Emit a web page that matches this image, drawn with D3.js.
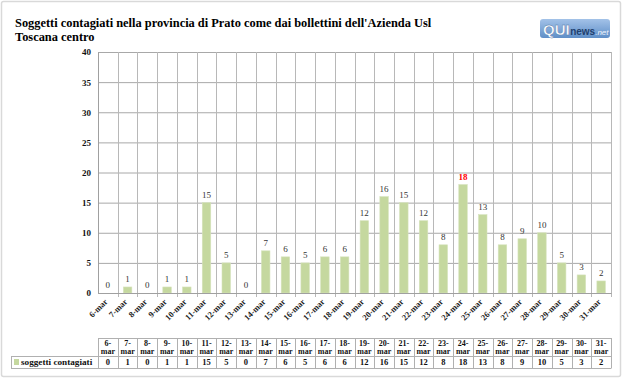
<!DOCTYPE html>
<html><head><meta charset="utf-8">
<script src="https://cdn.jsdelivr.net/npm/d3@7"></script>
<style>
html,body{margin:0;padding:0;background:#fff;}
svg{display:block;}
</style></head>
<body>
<script>
const categories = ["6-mar","7-mar","8-mar","9-mar","10-mar","11-mar","12-mar","13-mar","14-mar","15-mar","16-mar","17-mar","18-mar","19-mar","20-mar","21-mar","22-mar","23-mar","24-mar","25-mar","26-mar","27-mar","28-mar","29-mar","30-mar","31-mar"];
const values = [0,1,0,1,1,15,5,0,7,6,5,6,6,12,16,15,12,8,18,13,8,9,10,5,3,2];
const yTicks = [0,5,10,15,20,25,30,35,40];
const seriesName = "soggetti contagiati";
const titleLines = ["Soggetti contagiati nella provincia di Prato come dai bollettini dell'Azienda Usl","Toscana centro"];

const SERIF = "Liberation Serif, Times New Roman, serif";
const W = 623, H = 380;
const svg = d3.select("body").append("svg").attr("width", W).attr("height", H)
  .attr("font-family", SERIF);

// outer frame
svg.append("rect").attr("x",1.5).attr("y",1.5).attr("width",619).attr("height",375)
  .attr("fill","#fff").attr("stroke","#d9d9d9").attr("stroke-width",1.5).attr("rx",2);

const x = d3.scaleBand().domain(categories).range([98, 611]).padding(0);
const y = d3.scaleLinear().domain([0, 40]).range([293, 52]);

// title
svg.append("g").selectAll("text").data(titleLines).join("text")
  .attr("x", 15).attr("y", (d,i) => 27 + i*14)
  .attr("font-family", SERIF)
  .attr("font-size", 12.4).attr("font-weight", "bold").attr("fill", "#000")
  .text(d => d);

// logo
const logo = svg.append("g").attr("transform","translate(540,19)");
const grad = svg.append("defs").append("linearGradient").attr("id","lg").attr("x1",0).attr("x2",0).attr("y1",0).attr("y2",1);
grad.append("stop").attr("offset","0%").attr("stop-color","#a3c2e8");
grad.append("stop").attr("offset","100%").attr("stop-color","#5f8fc8");
logo.append("rect").attr("width",70).attr("height",19).attr("rx",3).attr("fill","url(#lg)");
const lt = logo.append("text").attr("x",3).attr("y",15.5);
lt.append("tspan").text("QUI").attr("font-family","Liberation Sans, Arial, sans-serif").attr("font-weight","bold").attr("font-size",15).attr("fill","#fff").attr("stroke","#4a74a8").attr("stroke-width",0.4);
lt.append("tspan").text("news").attr("font-family","Liberation Sans, Arial, sans-serif").attr("font-size",10).attr("fill","#1f3f6e").attr("dx",0.5).attr("font-weight","bold");
lt.append("tspan").text(".net").attr("font-family","Liberation Sans, Arial, sans-serif").attr("font-size",8).attr("fill","#eef4fc").attr("font-style","italic");

// gridlines
const plot = svg.append("g");
plot.selectAll("line.h").data(yTicks).join("line").attr("class","h")
  .attr("x1", 98).attr("x2", 611).attr("y1", d => y(d)+0.5).attr("y2", d => y(d)+0.5)
  .attr("stroke", "#a8a8a8").attr("stroke-width", 1);
plot.selectAll("line.v").data(categories.slice(1)).join("line").attr("class","v")
  .attr("x1", d => Math.round(x(d))+0.5).attr("x2", d => Math.round(x(d))+0.5)
  .attr("y1", y(40)).attr("y2", y(0)+4)
  .attr("stroke", "#b8b8b8").attr("stroke-width", 1);
plot.append("line").attr("x1",611.5).attr("x2",611.5).attr("y1",y(40)).attr("y2",y(0)+4).attr("stroke","#b8b8b8");

// bars
const bw = 8.5;
plot.selectAll("rect.bar").data(values).join("rect").attr("class","bar")
  .attr("x", (d,i) => x(categories[i]) + x.bandwidth()/2 - bw/2)
  .attr("width", bw)
  .attr("y", d => y(d))
  .attr("height", d => y(0) - y(d))
  .attr("fill", "#c5d89f").attr("stroke","#d6e3bd").attr("stroke-width",0.6);

// y axis
const yAxis = d3.axisLeft(y).tickValues(yTicks).tickSize(0).tickPadding(7);
const yg = svg.append("g").attr("transform","translate(98,0)").call(yAxis);
yg.attr("font-family", SERIF);
yg.select(".domain").attr("stroke","#a0a0a0");
yg.selectAll("text").attr("font-size",9).attr("font-weight","bold").attr("fill","#111");

// x axis
const xAxis = d3.axisBottom(x).tickSize(0).tickPadding(0);
const xg = svg.append("g").attr("transform",`translate(0,${y(0)})`).call(xAxis);
xg.attr("font-family", SERIF);
xg.select(".domain").attr("stroke","#a0a0a0");
xg.selectAll(".tick text")
  .attr("font-size",8.5).attr("font-weight","bold").attr("fill","#222")
  .attr("text-anchor","end").attr("dy",null).attr("y",null)
  .attr("transform","translate(-1,8) rotate(-45)")
  .attr("dominant-baseline","middle");

// value labels
const maxV = d3.max(values);
plot.selectAll("text.val").data(values).join("text").attr("class","val")
  .attr("x", (d,i) => x(categories[i]) + x.bandwidth()/2)
  .attr("y", d => y(d) - 5)
  .attr("text-anchor","middle")
  .attr("font-size", 9)
  .attr("font-weight", d => d === maxV ? "bold" : "normal")
  .attr("fill", d => d === maxV ? "#ff0000" : "#333")
  .text(d => d);

// data table
const tTop = 338, tMid = 356, tBot = 368;
const tbl = svg.append("g");
const tl = "#b0b0b0";
tbl.selectAll("line.tv").data(categories).join("line").attr("class","tv")
  .attr("x1", d => Math.round(x(d))+0.5).attr("x2", d => Math.round(x(d))+0.5)
  .attr("y1", tTop).attr("y2", tBot).attr("stroke", tl);
tbl.append("line").attr("x1",611.5).attr("x2",611.5).attr("y1",tTop).attr("y2",tBot).attr("stroke",tl);
tbl.append("line").attr("x1",98).attr("x2",611.5).attr("y1",tTop+0.5).attr("y2",tTop+0.5).attr("stroke",tl);
tbl.append("line").attr("x1",11).attr("x2",611.5).attr("y1",tMid+0.5).attr("y2",tMid+0.5).attr("stroke",tl);
tbl.append("line").attr("x1",11).attr("x2",611.5).attr("y1",tBot+0.5).attr("y2",tBot+0.5).attr("stroke",tl);
tbl.append("line").attr("x1",11.5).attr("x2",11.5).attr("y1",tMid).attr("y2",tBot).attr("stroke",tl);

tbl.selectAll("text.h1").data(categories).join("text").attr("class","h1")
  .attr("x", d => x(d) + x.bandwidth()/2).attr("y", tTop+7.5)
  .attr("text-anchor","middle").attr("font-size",8).attr("font-weight","bold").attr("fill","#111")
  .text(d => d.split("-")[0] + "-");
tbl.selectAll("text.h2").data(categories).join("text").attr("class","h2")
  .attr("x", d => x(d) + x.bandwidth()/2).attr("y", tTop+15.5)
  .attr("text-anchor","middle").attr("font-size",8).attr("font-weight","bold").attr("fill","#111")
  .text(d => d.split("-")[1]);
tbl.selectAll("text.v").data(values).join("text").attr("class","v")
  .attr("x", (d,i) => x(categories[i]) + x.bandwidth()/2).attr("y", tMid+9)
  .attr("text-anchor","middle").attr("font-size",8.5).attr("font-weight","bold").attr("fill","#111")
  .text(d => d);
tbl.append("rect").attr("x",14).attr("y",tMid+3).attr("width",5).attr("height",6).attr("fill","#c5d89f");
tbl.append("text").attr("x",21).attr("y",tMid+9).attr("font-size",9.2).attr("font-weight","bold").attr("fill","#111").text(seriesName);
</script>
</body></html>
